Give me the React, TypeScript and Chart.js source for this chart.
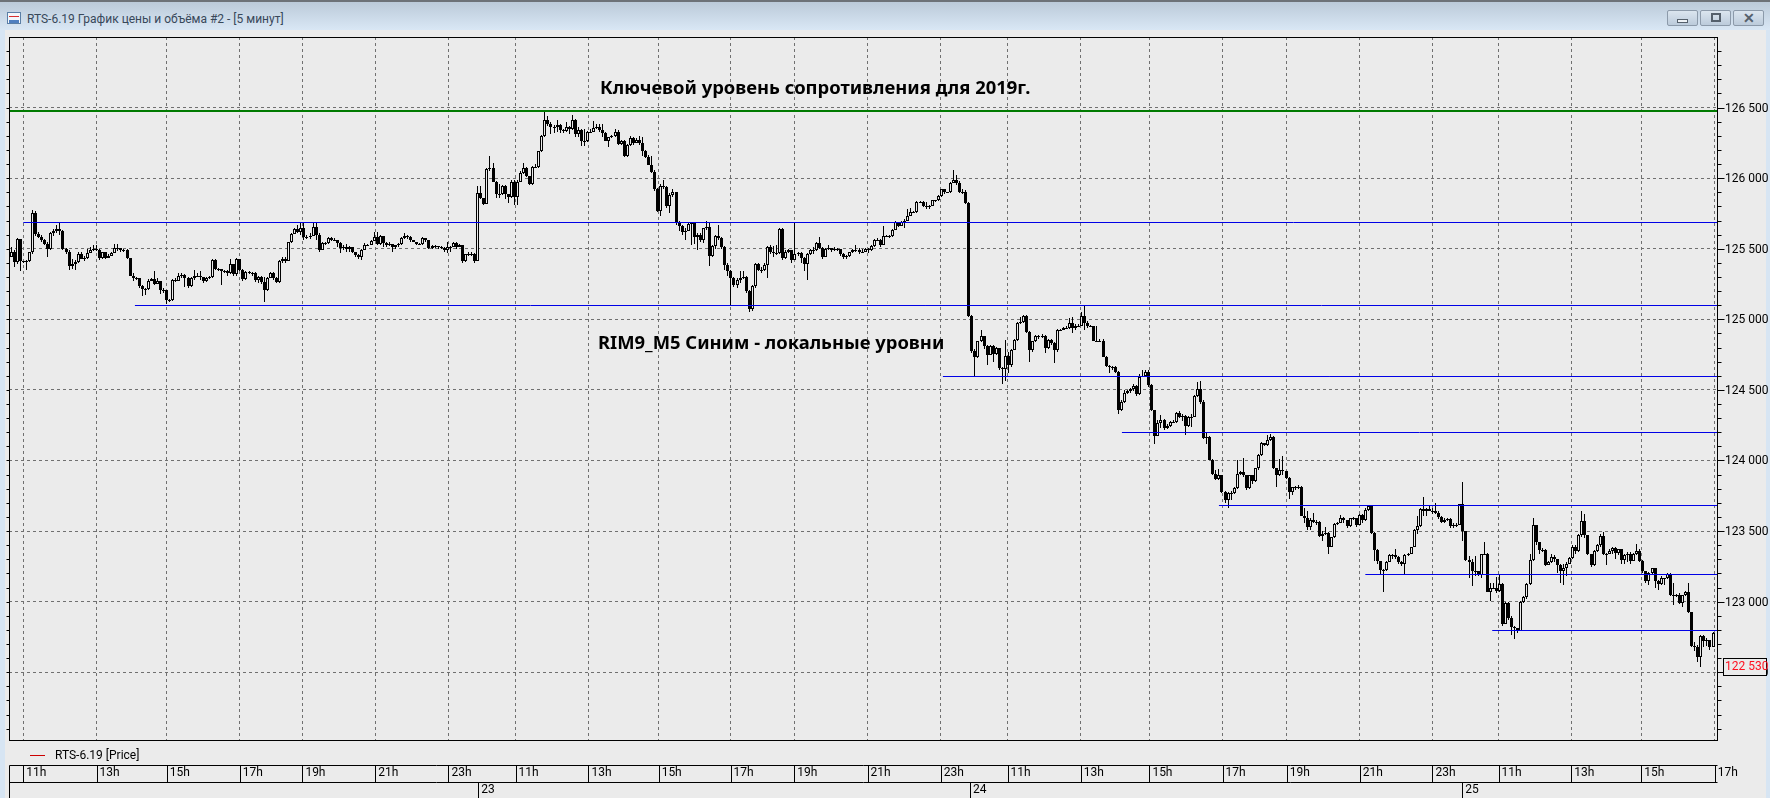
import React, { useEffect, useRef } from "react";
import { Chart, registerables } from "chart.js";

Chart.register(...registerables);

const FONT = "Roboto";
const firstOpen = 125440;

const closesA = [
  125480,125406,125570,125410,125410,125410,125476,125755,125606,125585,
  125560,125535,125500,125610,125625,125640,125625,125500,125475,125380,
  125395,125405,125465,125430,125435,125470,125490,125495,125490,125435,
  125475,125435,125450,125470,125505,125505,125490,125490,125435,
  125310,125295,125290,125235,125215,125215,125275,125285,125252,125270,
  125205,125205,125135,125135,125280,125275,125310,125315,125290,125235,
  125295,125310,125310,125300,125270,125290,125300,125420,125360,125358,
  125340,125345,125328,125390,125320,125430,125350,125288,125335,
  125330,125330,125276,125300,125265,125205,125295,125330,125295,125265,
  125410,125430,125410,125547,125605,
];
const highsA = [
  125510,125490,125575,125570,125415,125420,125480,125775,125765,125620,
  125600,125570,125550,125620,125640,125670,125680,125630,125505,125490,
  125430,125420,125480,125480,125450,125495,125510,125530,125530,125500,
  125480,125480,125465,125480,125535,125535,125500,125495,125500,
  125325,125325,125300,125290,125240,125225,125285,125295,125340,125290,
  125270,125225,125210,125145,125285,125295,125330,125330,125320,125300,
  125300,125350,125325,125340,125300,125300,125305,125430,125425,125365,
  125350,125350,125350,125425,125395,125435,125430,125355,125340,
  125345,125335,125335,125310,125310,125300,125300,125335,125335,125300,
  125420,125440,125440,125550,125610,
];
const lowsA = [
  125440,125370,125390,125340,125400,125350,125405,125460,125590,125575,
  125550,125525,125440,125490,125590,125610,125595,125490,125465,125350,
  125355,125350,125400,125425,125410,125430,125470,125485,125485,125420,
  125430,125430,125440,125460,125470,125485,125480,125480,125430,
  125305,125270,125280,125225,125165,125170,125210,125270,125240,125250,
  125180,125190,125110,125120,125130,125265,125270,125290,125230,125220,
  125230,125280,125300,125280,125255,125265,125285,125290,125350,125340,
  125240,125330,125310,125320,125310,125310,125340,125275,125280,
  125320,125310,125265,125260,125250,125125,125200,125290,125280,125255,
  125260,125400,125400,125410,125540,
];

const closesB = [
  125640,125620,125650,125585,125585,125590,125655,125600,125490,125540,
  125540,125575,125565,125565,125540,125505,125515,125495,125510,125480,
  125455,125440,125490,125530,125530,125555,125585,125535,125590,125540,
  125530,125535,125515,125525,125535,125575,125590,125585,125560,125550,
  125535,125535,125575,125560,125505,125520,125520,125510,125505,125490,
  125515,125515,125540,125515,125530,125415,125460,125465,125465,
  125410,125895,125860,125820,126065,126070,125975,125885,125890,125945,
  125885,125870,125975,125870,125975,126040,126070,126015,125960,
  126080,126080,126190,126300,126410,126385,126360,126360,126375,126340,
  126335,126365,126345,126410,126310,126340,
];
const highsB = [
  125650,125665,125680,125690,125600,125610,125680,125685,125610,125545,
  125550,125585,125580,125575,125565,125545,125530,125535,125520,125510,
  125480,125460,125495,125540,125535,125565,125620,125620,125600,125590,
  125545,125545,125530,125530,125540,125580,125615,125600,125590,125560,
  125545,125540,125580,125575,125565,125530,125530,125520,125520,125510,
  125545,125520,125545,125545,125535,125530,125465,125475,125475,
  125470,125945,125945,125860,126070,126160,126110,125980,125960,125950,
  125950,125890,125985,125985,125985,126050,126105,126080,126015,
  126085,126100,126195,126305,126480,126440,126400,126380,126410,126385,
  126345,126400,126370,126450,126420,126360,
];
const lowsB = [
  125630,125610,125600,125560,125570,125570,125620,125565,125480,125490,
  125530,125535,125555,125555,125510,125470,125490,125480,125480,125470,
  125445,125430,125420,125490,125520,125530,125555,125525,125530,125510,
  125510,125520,125480,125500,125510,125530,125570,125570,125550,125545,
  125525,125525,125530,125550,125500,125500,125505,125500,125495,125480,
  125470,125480,125510,125500,125510,125400,125405,125450,125450,
  125400,125495,125850,125810,125815,126050,125970,125860,125860,125880,
  125850,125825,125860,125810,125810,125970,126030,126005,125955,
  125955,126075,126075,126185,126295,126370,126315,126320,126330,126320,
  126320,126330,126310,126340,126295,126295,
];

const closesC = [
  126260,126260,126330,126330,126355,126360,126340,126320,126265,126290,
  126300,126330,126240,126260,126160,126235,126285,126250,126270,126250,
  126190,126150,126095,126045,125920,125770,125945,125940,125805,125880,
  125905,125680,125660,125620,125625,125675,125680,125585,125600,125560,
  125645,125655,125450,125516,125590,125575,125515,125385,125345,125290,
  125245,125280,125290,125300,125198,125070,125233,125390,125350,125350,
  125385,125510,125480,125470,125470,125640,125435,125480,125488,125417,
  125462,125470,125435,125395,125462,125488,125490,125540,125505,
  125445,125500,125505,125490,125495,125495,125465,125445,125450,125475,
  125490,125490,125480,125480,
];
const highsC = [
  126345,126345,126335,126350,126405,126385,126385,126385,126330,126295,
  126305,126350,126340,126270,126270,126240,126300,126290,126285,126300,
  126290,126200,126165,126155,126055,125930,125960,125985,125945,125895,
  125925,125905,125700,125670,125650,125680,125690,125690,125610,125610,
  125650,125695,125680,125525,125600,125665,125585,125520,125400,125350,
  125300,125290,125340,125340,125305,125210,125240,125400,125400,125370,
  125400,125520,125530,125520,125530,125650,125650,125490,125500,125480,
  125680,125480,125480,125440,125470,125500,125510,125545,125580,
  125510,125505,125530,125505,125510,125505,125495,125470,125455,125480,
  125500,125530,125505,125495,
];
const lowsC = [
  126230,126225,126255,126320,126330,126345,126330,126290,126260,126220,
  126285,126295,126235,126235,126150,126150,126230,126235,126250,126235,
  126160,126140,126090,126035,125910,125760,125735,125925,125790,125755,
  125870,125670,125625,125600,125560,125625,125530,125535,125490,125545,
  125540,125630,125375,125445,125500,125560,125500,125350,125310,125100,
  125230,125225,125260,125285,125190,125050,125060,125225,125340,125330,
  125340,125290,125460,125440,125455,125460,125420,125425,125470,125400,
  125440,125450,125400,125345,125280,125455,125465,125485,125495,
  125430,125440,125490,125475,125485,125485,125450,125425,125425,125440,
  125470,125480,125465,125470,
];

const closesD = [
  125495,125490,125520,125563,125565,125528,125592,125592,125587,125634,
  125690,125662,125690,125700,125735,125760,125760,125830,125830,125805,
  125805,125805,125842,125842,125875,125920,125900,125900,125965,
  125988,125965,125905,125905,125823,125025,124773,124735,124845,124880,
  124810,124750,124810,124755,124795,124655,124650,124740,124680,124785,
  124855,124975,124980,125025,124910,124780,124845,124880,124880,124885,
  124795,124855,124835,124780,124925,124925,124940,124940,124975,124940,
  124950,124955,125025,124975,124950,124950,124850,124850,124850,
  124735,124670,124660,124660,124630,124360,
];
const highsD = [
  125505,125505,125525,125570,125575,125570,125660,125600,125600,125640,
  125700,125690,125695,125710,125785,125790,125765,125835,125835,125835,
  125830,125810,125845,125845,125880,125925,125925,125905,125970,
  126060,126020,125980,125925,125915,125830,125030,124790,124850,124925,
  124885,124815,124815,124815,124805,124800,124660,124855,124770,124790,
  124860,124980,125015,125030,125030,124920,124850,124890,124890,124895,
  124890,124860,124860,124840,124930,124930,124945,124950,125010,125020,
  124965,124965,125050,125100,124990,124960,124955,124955,124860,
  124860,124740,124680,124670,124670,124635,
];
const lowsD = [
  125480,125470,125485,125515,125555,125515,125525,125580,125575,125585,
  125630,125655,125660,125650,125695,125730,125750,125755,125825,125795,
  125785,125785,125800,125830,125840,125870,125885,125895,125895,
  125970,125950,125895,125890,125815,125020,124760,124600,124725,124840,
  124790,124680,124745,124700,124750,124640,124545,124560,124620,124660,
  124780,124850,124970,124975,124905,124700,124770,124840,124860,124870,
  124760,124790,124820,124690,124770,124915,124925,124930,124935,124905,
  124925,124945,124950,124925,124940,124945,124845,124845,124840,
  124730,124660,124620,124640,124620,124330,
];

const closesE = [
  124417,124480,124490,124505,124530,124470,124595,124600,124630,124535,
  124358,124175,124265,124290,124228,124245,124270,124270,124335,124310,
  124315,124245,124310,124310,124457,124510,124417,124160,124165,124005,
  123905,123870,123895,123775,123720,123770,123770,123808,123905,123920,
  123895,123808,123895,123855,123945,124040,124125,124110,124145,124165,
  123945,123895,123930,123925,123875,123775,123810,123813,123813,123610,
  123590,123530,123580,123565,123565,123465,123480,123485,123390,123455,
  123552,123560,123590,123575,123533,123590,123590,123545,123612,123575,
  123650,123675,123485,123365,123285,123225,123225,123280,123330,123330,
  123315,123280,123268,123330,123340,123386,123510,123535,123655,123640,
  123655,123645,123640,
];
const highsE = [
  124430,124500,124500,124515,124540,124535,124610,124640,124640,124640,
  124545,124360,124285,124320,124295,124255,124280,124285,124340,124350,
  124330,124320,124315,124330,124465,124555,124565,124425,124200,124170,
  124010,123935,123940,123900,123785,123780,123785,123815,124000,123925,
  124020,123900,123900,123900,123950,124045,124130,124125,124180,124185,
  124170,123950,124010,124035,123885,123880,123815,123820,123825,123820,
  123660,123640,123590,123625,123580,123570,123500,123530,123490,123460,
  123560,123565,123615,123600,123580,123595,123600,123590,123620,123620,
  123660,123680,123680,123490,123370,123290,123230,123285,123335,123340,
  123375,123320,123285,123335,123345,123390,123515,123610,123660,123740,
  123660,123680,123660,
];
const lowsE = [
  124350,124410,124470,124480,124495,124460,124465,124590,124595,124520,
  124350,124120,124170,124230,124215,124225,124235,124265,124265,124300,
  124280,124180,124240,124240,124305,124450,124400,124150,124120,124000,
  123895,123860,123865,123770,123700,123665,123720,123765,123800,123895,
  123880,123790,123800,123835,123845,123935,124030,124100,124105,124140,
  123940,123810,123890,123900,123870,123725,123755,123790,123800,123605,
  123560,123510,123510,123555,123540,123455,123430,123470,123335,123385,
  123450,123545,123555,123560,123525,123530,123580,123530,123540,123560,
  123570,123640,123480,123290,123270,123190,123065,123220,123280,123300,
  123300,123270,123255,123190,123325,123335,123385,123480,123530,123610,
  123610,123640,123620,
];

const closesF = [
  123627,123600,123565,123580,123588,123535,123540,123545,123690,123500,
  123297,123280,123217,123217,123190,123335,123340,123070,123100,123100,
  123075,123125,122840,122990,122885,122820,122810,122795,123000,123030,
  123125,123295,123540,123420,123365,123365,123260,123280,123315,123300,
  123260,123215,123240,123270,123310,123390,123360,123470,123570,
  123470,123335,123258,123360,123400,123465,123340,123340,123360,123380,
  123345,123370,123297,123330,123335,123290,123340,123360,123290,123217,
  123145,123200,123235,123145,123125,123165,123165,123195,123045,123045,
  123045,122990,123045,123070,122925,122685,122680,122610,122760,
  122720,122725,122680,122780,
];
const highsF = [
  123700,123640,123610,123590,123595,123590,123560,123560,123695,123850,
  123500,123320,123300,123320,123215,123340,123425,123345,123135,123130,
  123175,123190,123130,123000,123000,122900,122825,122815,123005,123040,
  123130,123340,123595,123540,123425,123380,123370,123290,123335,123330,
  123285,123265,123270,123280,123315,123400,123400,123480,123640,
  123620,123470,123340,123365,123410,123480,123490,123345,123370,123385,
  123390,123375,123370,123340,123350,123350,123345,123405,123370,123295,
  123220,123210,123240,123220,123150,123180,123170,123200,123205,123130,
  123055,123060,123050,123075,123130,122930,122715,122690,122765,
  122765,122740,122730,122785,
];
const lowsF = [
  123620,123585,123560,123560,123570,123520,123520,123530,123540,123430,
  123290,123170,123110,123180,123180,123170,123330,123065,123005,123090,
  123060,123070,122825,122840,122870,122765,122735,122780,122790,122990,
  123020,123120,123290,123400,123340,123350,123250,123260,123275,123280,
  123200,123130,123120,123180,123265,123300,123340,123355,123460,
  123450,123330,123245,123255,123350,123385,123330,123260,123335,123340,
  123300,123330,123270,123265,123280,123265,123285,123330,123280,123205,
  123130,123120,123190,123095,123080,123120,123120,123160,123040,122975,
  123030,122980,122965,123040,122920,122680,122650,122570,122535,
  122680,122685,122660,122680,
];

const closes = [...closesA, ...closesB, ...closesC, ...closesD, ...closesE, ...closesF];
const highs = [...highsA, ...highsB, ...highsC, ...highsD, ...highsE, ...highsF];
const lows = [...lowsA, ...lowsB, ...lowsC, ...lowsD, ...lowsE, ...lowsF];
const opens = closes.map((_, i) => (i === 0 ? firstOpen : closes[i - 1]));

const hourLabels = ["11h","13h","15h","17h","19h","21h","23h","11h","13h","15h","17h","19h","21h","23h","11h","13h","15h","17h","19h","21h","23h","11h","13h","15h","17h"];
const hourBars = [4,28,51,75,95.5,119.4,143.4,165.4,189.3,212.3,235.9,256.8,280.8,304.8,326.7,350.7,373.2,397.2,418.2,442.2,466,487.7,511.5,534.5,558.6];
const dayLabels = ["23","24","25"];
const dayBars = [153.2,314.4,475.8];

const xMin = -0.69;
const xMax = 559.3;
const yMin = 122020;
const yMax = 127000;
const greenLevel = { value: 126477, from: xMin, to: xMax };
const blueLevels = [
  { value: 125691, from: 4 },
  { value: 125100, from: 40.6 },
  { value: 124597, from: 305.5 },
  { value: 124200, from: 364.2 },
  { value: 123683, from: 396 },
  { value: 123195, from: 444 },
  { value: 122798, from: 485.6 },
];
const lastPrice = 122530;

const fmt = (v: number) => `${Math.floor(v / 1000)} ${String(v % 1000).padStart(3, "0")}`;

const snapPlugin = {
  id: "snap",
  beforeDatasetsDraw(chart: any) {
    chart.data.datasets.forEach((ds: any, idx: number) => {
      const data = chart.getDatasetMeta(idx).data;
      if (ds.type === "line") {
        data.forEach((el: any) => {
          el.y = ds.borderWidth === 2 ? Math.round(el.y) : Math.round(el.y) + 0.5;
        });
        return;
      }
      data.forEach((el: any) => {
        el.x = Math.floor(el.x) + 0.5;
        el.y = Math.round(el.y);
        el.base = Math.round(el.base);
        if (Math.abs(el.base - el.y) < 1) el.base = el.y + 1;
      });
    });
  },
};

const chromePlugin = {
  id: "chrome",
  afterDraw(chart: any) {
    const { ctx, chartArea: a, scales } = chart;
    const L = Math.round(a.left) + 0.5;
    const R = Math.round(a.right) + 0.5;
    const T = Math.round(a.top) + 0.5;
    const B = Math.round(a.bottom) + 0.5;
    ctx.save();
    ctx.strokeStyle = "#000";
    ctx.lineWidth = 1;
    ctx.setLineDash([]);
    ctx.strokeRect(L, T, R - L, B - T);
    ctx.beginPath();
    scales.y.ticks.forEach((t: any) => {
      const p = Math.round(scales.y.getPixelForValue(t.value)) + 0.5;
      ctx.moveTo(L - 3, p);
      ctx.lineTo(L, p);
      ctx.moveTo(R, p);
      ctx.lineTo(R + (t.value % 500 === 0 ? 7 : 4), p);
    });
    const band1 = 765.5;
    const band2 = 782.5;
    ctx.moveTo(L, band1);
    ctx.lineTo(R, band1);
    ctx.moveTo(L, band2);
    ctx.lineTo(R, band2);
    ctx.moveTo(L, band1);
    ctx.lineTo(L, 798);
    scales.x.ticks.forEach((t: any) => {
      const p = Math.round(scales.x.getPixelForValue(t.value)) + 0.5;
      ctx.moveTo(p, band1);
      ctx.lineTo(p, band2);
    });
    scales.xDay.ticks.forEach((t: any) => {
      const p = Math.round(scales.xDay.getPixelForValue(t.value)) + 0.5;
      ctx.moveTo(p, band2);
      ctx.lineTo(p, 798);
    });
    ctx.stroke();
    const yp = scales.y.getPixelForValue(lastPrice);
    ctx.fillStyle = "#ebebeb";
    ctx.fillRect(1723.5, Math.round(yp) - 9.5, 43, 17);
    ctx.strokeRect(1723.5, Math.round(yp) - 9.5, 43, 17);
    ctx.fillStyle = "#ff1020";
    ctx.font = `12px ${FONT}`;
    ctx.textAlign = "left";
    ctx.textBaseline = "middle";
    ctx.fillText(fmt(lastPrice), 1725, Math.round(yp) - 1);
    ctx.restore();
  },
};

const px = (s: React.CSSProperties): React.CSSProperties => ({ position: "absolute", ...s });
const winButton = (left: number, glyph: React.ReactNode) => (
  <div
    style={px({
      left,
      top: 10,
      width: 31,
      height: 16,
      border: "1px solid #8c9aaa",
      borderRadius: 2,
      boxSizing: "border-box",
      background: "linear-gradient(#dbe5ef,#bccbdb)",
    })}
  >
    {glyph}
  </div>
);

const noSidePadding = (s: any) => {
  s.paddingLeft = 0;
  s.paddingRight = 0;
  s.paddingTop = 0;
  s.paddingBottom = 0;
};

export default function App() {
  const ref = useRef<HTMLCanvasElement>(null);
  useEffect(() => {
    const chart = new Chart(ref.current!, {
      type: "bar",
      data: {
        datasets: [
          {
            type: "line",
            label: "Ключевой уровень",
            data: [
              { x: greenLevel.from, y: greenLevel.value },
              { x: greenLevel.to, y: greenLevel.value },
            ],
            borderColor: "#007a00",
            borderWidth: 2,
            pointRadius: 0,
            order: 0,
          },
          ...blueLevels.map((l) => ({
            type: "line",
            label: "Локальный уровень",
            data: [
              { x: l.from, y: l.value },
              { x: xMax, y: l.value },
            ],
            borderColor: "#0000e6",
            borderWidth: 1,
            pointRadius: 0,
            order: 0,
          })),
          {
            label: "RTS-6.19 body",
            data: closes.map((c, i) => ({ x: i, y: [opens[i], c] })),
            backgroundColor: closes.map((c, i) => (c < opens[i] ? "#000" : "#ebebeb")),
            borderColor: "#000",
            borderWidth: 1,
            borderSkipped: false,
            inflateAmount: 0,
            barThickness: 3,
            grouped: false,
            order: 1,
          },
          {
            label: "RTS-6.19 wick",
            data: closes.map((_, i) => ({ x: i, y: [lows[i], highs[i]] })),
            backgroundColor: "#000",
            borderWidth: 0,
            inflateAmount: 0,
            barThickness: 1,
            grouped: false,
            order: 2,
          },
        ] as any,
      },
      options: {
        responsive: false,
        animation: false,
        devicePixelRatio: 1,
        layout: { padding: { left: 9, top: 37, right: 0, bottom: 0 } },
        plugins: { legend: { display: false }, tooltip: { enabled: false } },
        scales: {
          x: {
            type: "linear",
            position: "bottom",
            min: xMin,
            max: xMax,
            offset: false,
            weight: 1,
            afterBuildTicks: (s: any) => {
              s.ticks = hourBars.map((v) => ({ value: v }));
            },
            afterFit: (s: any) => {
              s.height = 42;
              noSidePadding(s);
            },
            grid: {
              offset: false,
              color: "#707070",
              lineWidth: 1,
              drawTicks: false,
            },
            border: { display: false, dash: [3, 3] },
            ticks: {
              autoSkip: false,
              maxRotation: 0,
              align: "start",
              labelOffset: 3,
              padding: 26,
              color: "#000",
              font: { family: FONT, size: 12 },
              callback: (v: any) => hourLabels[hourBars.indexOf(v)] ?? "",
            },
          },
          xDay: {
            type: "linear",
            position: "bottom",
            min: xMin,
            max: xMax,
            offset: false,
            weight: 2,
            afterBuildTicks: (s: any) => {
              s.ticks = dayBars.map((v) => ({ value: v }));
            },
            afterFit: (s: any) => {
              s.height = 16;
              noSidePadding(s);
            },
            grid: { display: false, drawTicks: false },
            border: { display: false },
            ticks: {
              autoSkip: false,
              maxRotation: 0,
              align: "start",
              labelOffset: 3,
              padding: 1,
              color: "#000",
              font: { family: FONT, size: 12 },
              callback: (v: any) => dayLabels[dayBars.indexOf(v)] ?? "",
            },
          },
          y: {
            type: "linear",
            position: "right",
            min: yMin,
            max: yMax,
            beginAtZero: false,
            afterBuildTicks: (s: any) => {
              const t = [];
              for (let v = 122100; v <= 126900; v += 100) t.push({ value: v });
              s.ticks = t;
            },
            afterFit: (s: any) => {
              s.width = 53;
              noSidePadding(s);
            },
            grid: {
              color: (c: any) => (c.tick && c.tick.value % 500 === 0 ? "#707070" : "rgba(0,0,0,0)"),
              lineWidth: 1,
              drawTicks: false,
            },
            border: { display: false, dash: [3, 3] },
            ticks: {
              autoSkip: false,
              padding: 8,
              labelOffset: 1,
              color: "#000",
              font: { family: FONT, size: 12 },
              callback: (v: any) => (v % 500 === 0 ? fmt(v) : ""),
            },
          },
        },
      } as any,
      plugins: [snapPlugin, chromePlugin],
    });
    return () => chart.destroy();
  }, []);

  const textBase: React.CSSProperties = { fontFamily: FONT, whiteSpace: "nowrap", lineHeight: 1 };
  return (
    <div style={px({ position: "fixed", left: 0, top: 0, width: 1770, height: 798, background: "#ebebeb", overflow: "hidden" })}>
      <div style={px({ left: 0, top: 0, width: 1770, height: 30, background: "linear-gradient(#b9c8d7,#d9e7f5)" })} />
      <div style={px({ left: 0, top: 0, width: 1770, height: 2, background: "#6d7278" })} />
      <div style={px({ left: 0, top: 30, width: 5, height: 768, background: "#d7e5f3" })} />
      <div style={px({ left: 1766, top: 30, width: 4, height: 768, background: "#d7e5f3" })} />
      <div style={px({ left: 7, top: 12, width: 14, height: 12, background: "#f4f7fb", border: "1px solid #5b7fa6", boxSizing: "border-box" })}>
        <div style={px({ left: 1, top: 3, width: 10, height: 1, background: "#d83030" })} />
        <div style={px({ left: 1, top: 7, width: 10, height: 3, background: "#4f7fc0" })} />
      </div>
      <div style={px({ ...textBase, left: 27, top: 13, fontSize: 12, color: "#38485a" })}>RTS-6.19 График цены и объёма #2 - [5 минут]</div>
      {winButton(1667, <div style={px({ left: 9, top: 8, width: 11, height: 4, border: "1px solid #55606c", background: "#eef2f6", boxSizing: "border-box" })} />)}
      {winButton(1700, <div style={px({ left: 10, top: 2, width: 10, height: 9, border: "2px solid #55606c", boxSizing: "border-box" })} />)}
      {winButton(1733, <div style={{ ...textBase, textAlign: "center", fontSize: 14, fontWeight: 700, color: "#55606c" }}>✕</div>)}
      <canvas ref={ref} width={1770} height={798} style={px({ left: 0, top: 0, width: 1770, height: 798 })} />
      <div style={px({ ...textBase, left: 600, top: 78, fontSize: 18.4, fontWeight: 700, fontFamily: "Noto Sans", color: "#000" })}>Ключевой уровень сопротивления для 2019г.</div>
      <div style={px({ ...textBase, left: 598, top: 333, fontSize: 18.4, fontWeight: 700, fontFamily: "Noto Sans", color: "#000" })}>RIM9_M5 Синим - локальные уровни</div>
      <div style={px({ left: 30, top: 755, width: 15, height: 1, background: "#cc0000" })} />
      <div style={px({ ...textBase, left: 55, top: 749, fontSize: 12, color: "#000" })}>RTS-6.19 [Price]</div>
    </div>
  );
}
